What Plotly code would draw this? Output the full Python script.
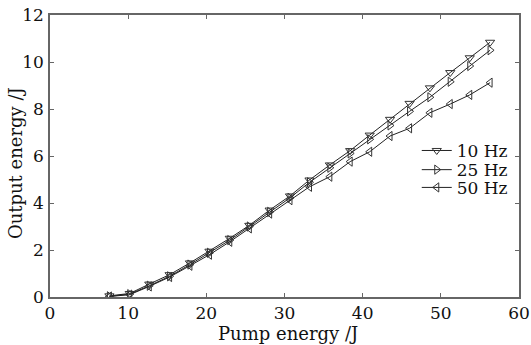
import plotly.graph_objects as go

pump = [7.6, 10.2, 12.7, 15.3, 17.9, 20.4, 23.0, 25.5, 28.1, 30.7,
        33.2, 35.8, 38.4, 40.9, 43.5, 46.0, 48.6, 51.2, 53.7, 56.3]
out_10hz = [0.05, 0.15, 0.55, 0.95, 1.45, 1.95, 2.5, 3.05, 3.7, 4.3,
            4.98, 5.62, 6.23, 6.89, 7.56, 8.24, 8.9, 9.55, 10.18, 10.84]
out_25hz = [0.03, 0.12, 0.48, 0.88, 1.38, 1.88, 2.42, 3.0, 3.62, 4.22,
            4.88, 5.5, 6.11, 6.71, 7.3, 7.9, 8.5, 9.16, 9.83, 10.5]
out_50hz = [0.02, 0.1, 0.45, 0.85, 1.33, 1.8, 2.35, 2.92, 3.55, 4.12,
            4.69, 5.12, 5.76, 6.18, 6.85, 7.18, 7.84, 8.21, 8.6, 9.12]
series_names = ["10 Hz", "25 Hz", "50 Hz"]
x_ticks = [0, 10, 20, 30, 40, 50, 60]
y_ticks = [0, 2, 4, 6, 8, 10, 12]

FONT = "DejaVu Serif"
TXT = "#111111"
symbols = ["triangle-down-open", "triangle-right-open", "triangle-left-open"]
legend_ids = ["legend", "legend2", "legend3"]
legend_y = [0.518, 0.450, 0.387]

fig = go.Figure()
for name, ys, sym, lg in zip(series_names, [out_10hz, out_25hz, out_50hz], symbols, legend_ids):
    fig.add_trace(go.Scatter(
        x=pump, y=ys, name=name, mode="lines+markers", legend=lg,
        line=dict(color="#222222", width=1),
        marker=dict(symbol=sym, size=8, color="#333333", line=dict(width=1)),
    ))

axis_common = dict(
    showline=True, linecolor="#666666", linewidth=1.5, mirror="ticks",
    ticks="inside", ticklen=4, tickcolor="#666666", showgrid=False,
    zeroline=False, automargin=False,
    tickfont=dict(family=FONT, size=17, color=TXT),
)
fig.update_xaxes(range=[0, 60], tickvals=x_ticks, **axis_common)
fig.update_yaxes(range=[0, 12], tickvals=y_ticks, ticklabelstandoff=1, **axis_common)

legend_common = dict(x=0.782, xanchor="left", yanchor="middle",
                     bgcolor="rgba(0,0,0,0)", font=dict(family=FONT, size=17, color=TXT),
                     itemwidth=30)
layout_legends = {lg: dict(y=yy, **legend_common) for lg, yy in zip(legend_ids, legend_y)}

fig.update_layout(
    width=531, height=345,
    margin=dict(l=50, r=11.5, t=15, b=48, autoexpand=False),
    paper_bgcolor="white", plot_bgcolor="white",
    showlegend=True,
    annotations=[
        dict(text="Pump energy /J", xref="paper", yref="paper", x=0.508, y=-0.128,
             xanchor="center", yanchor="middle", showarrow=False,
             font=dict(family=FONT, size=18, color=TXT)),
        dict(text="Output energy /J", xref="paper", yref="paper", x=-0.0745, y=0.475,
             xanchor="center", yanchor="middle", textangle=-90, showarrow=False,
             font=dict(family=FONT, size=18, color=TXT)),
    ],
    **layout_legends,
)

# remove the browser's default 8px body margin so the figure fills the window
fig.write_html("out.html", config={"displayModeBar": False},
               post_script="document.body.style.margin='0';")
